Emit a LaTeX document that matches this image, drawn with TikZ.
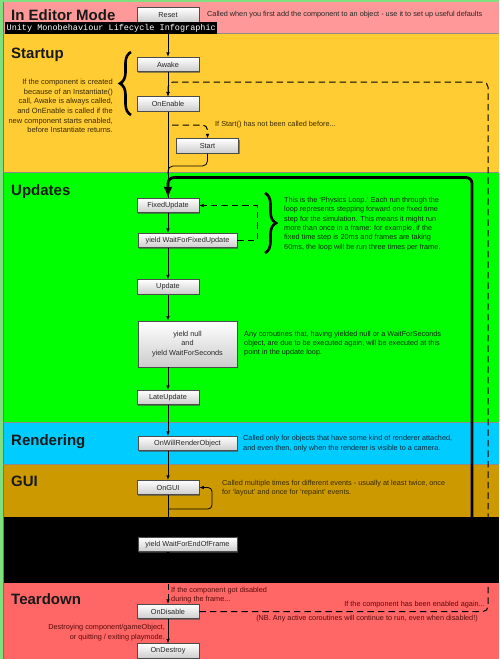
\documentclass[tikz,border=0pt]{standalone}
\usepackage{fontspec}
\setmainfont{Liberation Sans}
\setmonofont{Liberation Mono}
\usetikzlibrary{arrows.meta,decorations.pathreplacing,shadows,calc}
\definecolor{edpink}{HTML}{FF9999}
\definecolor{startorange}{HTML}{FFCC33}
\definecolor{updgreen}{HTML}{00FF00}
\definecolor{rendblue}{HTML}{00CCFF}
\definecolor{guigold}{HTML}{CC9900}
\definecolor{teared}{HTML}{FF6666}
\definecolor{frameg}{HTML}{80E080}
\definecolor{txtbrown}{HTML}{3A2A00}
\definecolor{txtgreen}{HTML}{0A2A0A}
\definecolor{txtblue}{HTML}{0A2A3A}
\definecolor{txtred}{HTML}{5A0A0A}
\newcommand\smalltxt{\fontsize{7.3}{9.3}\selectfont}
\newcommand\starttxt{\fontsize{7.5}{9.6}\selectfont}
\newcommand\ttlfont{\fontsize{15}{17}\selectfont\bfseries}
\begin{document}
\begin{tikzpicture}[x=1pt,y=-1pt,
  box/.style={draw=black!70, line width=0.6pt, top color=white, bottom color=black!20,
    minimum height=14.5pt, minimum width=62pt, inner sep=1pt,
    font=\fontsize{7.3}{9.3}\selectfont, text=black!85,
    drop shadow={shadow xshift=1.2pt, shadow yshift=-1.2pt, fill=black!70, opacity=.6}},
  wbox/.style={box, minimum width=99pt},
  ttl/.style={anchor=base west, font=\ttlfont, text=black!90, inner sep=0pt},
  note/.style={font=\smalltxt, inner sep=0pt},
  arr/.style={-{Latex[length=4.5pt,width=3.6pt]}, line width=0.8pt},
  plain/.style={line width=0.8pt},
  dsh/.style={dash pattern=on 6.5pt off 4pt, line width=1pt},
  bigloop/.style={line width=2.8pt, rounded corners=6pt, -{Latex[length=11pt,width=9pt]}},
  bracestyle/.style={decorate, line width=2.6pt}
]
\useasboundingbox (0,0) rectangle (499,659);
% background and bands
\fill[frameg] (0,0) rectangle (499,659);
\fill[edpink] (3,2) rectangle (499,33);
\fill[startorange] (3,33) rectangle (499,172);
\fill[updgreen] (3,172) rectangle (499,422);
\fill[rendblue] (3,422) rectangle (499,464);
\fill[guigold] (3,464) rectangle (499,517);
\fill[black] (3,517) rectangle (499,583);
\fill[teared] (3,583) rectangle (499,659);
\draw[black!55, line width=0.6pt] (3,2) -- (3,659);
\foreach \yy in {33,172,422,464} {\draw[black!45, line width=0.5pt] (3,\yy) -- (499,\yy);}

% titles
\node[ttl] (t1) at (11,20) {In Editor Mode};
\node[ttl] (t2) at (11,58) {Startup};
\node[ttl] (t3) at (11,195) {Updates};
\node[ttl] (t4) at (11,445) {Rendering};
\node[ttl] (t5) at (11,486) {GUI};
\node[ttl] (t6) at (11,604) {Teardown};

% boxes
\node[box] (reset) at (168,15) {Reset};
\node[box] (awake) at (168,64.5) {Awake};
\node[box] (onenable) at (168,104) {OnEnable};
\node[box] (start) at (207.5,146) {Start};
\node[box] (fixedupdate) at (168,205.5) {FixedUpdate};
\node[wbox] (wffu) at (187.5,240.5) {yield WaitForFixedUpdate};
\node[box] (update) at (168,287) {Update};
\node[wbox, minimum height=46pt, align=center] (yieldnull) at (187.5,344) {yield null\\and\\yield WaitForSeconds};
\node[box] (lateupdate) at (168,397.5) {LateUpdate};
\node[wbox] (onwill) at (187.5,443.5) {OnWillRenderObject};
\node[box] (ongui) at (168,487.5) {OnGUI};
\node[wbox] (endofframe) at (187.5,544.5) {yield WaitForEndOfFrame};
\node[box] (ondisable) at (168,611.5) {OnDisable};
\node[box] (ondestroy) at (168,651) {OnDestroy};

% helper coordinates
\coordinate (reenTopR) at (488,82);
\coordinate (reenTopL) at (168,82);
\coordinate (reenBotR) at (488,611.5);
\coordinate (sfork) at (172,125);
\coordinate (sforkR) at (207.5,125);
\coordinate (sjoinR) at (207.5,166);
\coordinate (sjoin) at (168,166);
\coordinate (sjoinD) at (168,174);
\coordinate (loopA) at (168,570);
\coordinate (loopB) at (472,570);
\coordinate (loopC) at (472,177.5);
\coordinate (loopD) at (168,177.5);
\coordinate (phyR1) at (257,240.5);
\coordinate (phyR2) at (257,205.5);
\coordinate (gA) at (168,509);
\coordinate (gB) at (212,509);
\coordinate (gC) at (212,487.5);

% connectors
\draw[arr] (reset) -- (awake);
\draw[arr] (awake) -- (onenable);
\draw[dsh, rounded corners=5pt, -{Latex[length=4.5pt,width=3.6pt]}] (ondisable.east) -- (reenBotR) -- (reenTopR) -- (reenTopL) -- (onenable.north);
\draw[dsh, rounded corners=5pt, -{Latex[length=4.5pt,width=3.6pt]}] (sfork) -- (sforkR) -- (start.north);
\draw[plain, rounded corners=5pt] (start.south) -- (sjoinR) -- (sjoin) -- (sjoinD);
\draw[plain] (onenable.south) -- (fixedupdate.north);
\draw[bigloop] (endofframe.south -| loopA) -- (loopA) -- (loopB) -- (loopC) -- (loopD) -- (fixedupdate.north);
\draw[arr] (fixedupdate.south) -- (fixedupdate.south |- wffu.north);
\draw[dsh, -{Latex[length=4.5pt,width=3.6pt]}] (wffu.east) -- (phyR1) -- (phyR2) -- (fixedupdate.east);
\draw[arr] (update.north |- wffu.south) -- (update.north);
\draw[arr] (update.south) -- (update.south |- yieldnull.north);
\draw[arr] (lateupdate.north |- yieldnull.south) -- (lateupdate.north);
\draw[arr] (lateupdate.south) -- (lateupdate.south |- onwill.north);
\draw[arr] (ongui.north |- onwill.south) -- (ongui.north);
\draw[arr, rounded corners=4pt] (gA) -- (gB) -- (gC) -- (ongui.east);
\draw[arr] (ongui.south) -- (ongui.south |- endofframe.north);
\draw[dsh, -{Latex[length=4.5pt,width=3.6pt]}] (ondisable.north |- endofframe.south) -- (ondisable.north);
\draw[arr] (ondisable.south) -- (ondestroy.north);

% braces
\coordinate (lbr1) at (131,115);
\coordinate (lbr2) at (131,52);
\draw[bracestyle, decoration={brace, amplitude=11pt}] (lbr1) -- (lbr2);
\coordinate (rbr1) at (265,193);
\coordinate (rbr2) at (265,253);
\draw[bracestyle, decoration={brace, amplitude=11pt}] (rbr1) -- (rbr2);

% caption
\node[fill=black, text=white, font=\ttfamily\fontsize{8.5}{9}\selectfont, inner xsep=1.5pt, inner ysep=0pt, minimum height=12pt, anchor=west] (caption) at (5,28) {Unity Monobehaviour Lifecycle Infographic};

% notes
\node[note, anchor=west, text=black!85] (nreset) at (207,15) {Called when you first add the component to an object - use it to set up useful defaults};
\node[note, font=\starttxt, anchor=east, align=right, text=txtbrown] (nstart) at (113,106) {If the component is created\\because of an Instantiate()\\call, Awake is always called,\\and OnEnable is called if the\\new component starts enabled,\\before Instantiate returns.};
\node[note, anchor=west, text=txtbrown] (nstartif) at (215,125) {If Start() has not been called before...};
\node[note, anchor=west, align=left, text=txtgreen] (nphys) at (284,224) {This is the ‘Physics Loop.’ Each run through the\\loop represents stepping forward one fixed time\\step for the simulation. This means it might run\\more than once in a frame: for example, if the\\fixed time step is 20ms and frames are taking\\60ms, the loop will be run three times per frame.};
\node[note, anchor=west, align=left, text=txtgreen] (nyield) at (244,343.5) {Any coroutines that, having yielded null or a WaitForSeconds\\object, are due to be executed again, will be executed at this\\point in the update loop.};
\node[note, anchor=west, align=left, text=txtblue] (nrender) at (243,443.5) {Called only for objects that have some kind of renderer attached,\\and even then, only when the renderer is visible to a camera.};
\node[note, anchor=west, align=left, text=txtbrown] (ngui) at (222,488) {Called multiple times for different events - usually at least twice, once\\for ‘layout’ and once for ‘repaint’ events.};
\node[note, anchor=west, align=left, text=txtred] (ndis) at (171,595) {If the component got disabled\\during the frame...};
\node[note, anchor=east, text=txtred] (nagain) at (485,605) {If the component has been enabled again...};
\node[note, anchor=east, text=txtred] (nnb) at (478,618.5) {(NB. Any active coroutines will continue to run, even when disabled!)};
\node[note, anchor=east, align=right, text=txtred] (ndestroy) at (165,632.5) {Destroying component/gameObject,\\or quitting / exiting playmode.};
\end{tikzpicture}
\end{document}
